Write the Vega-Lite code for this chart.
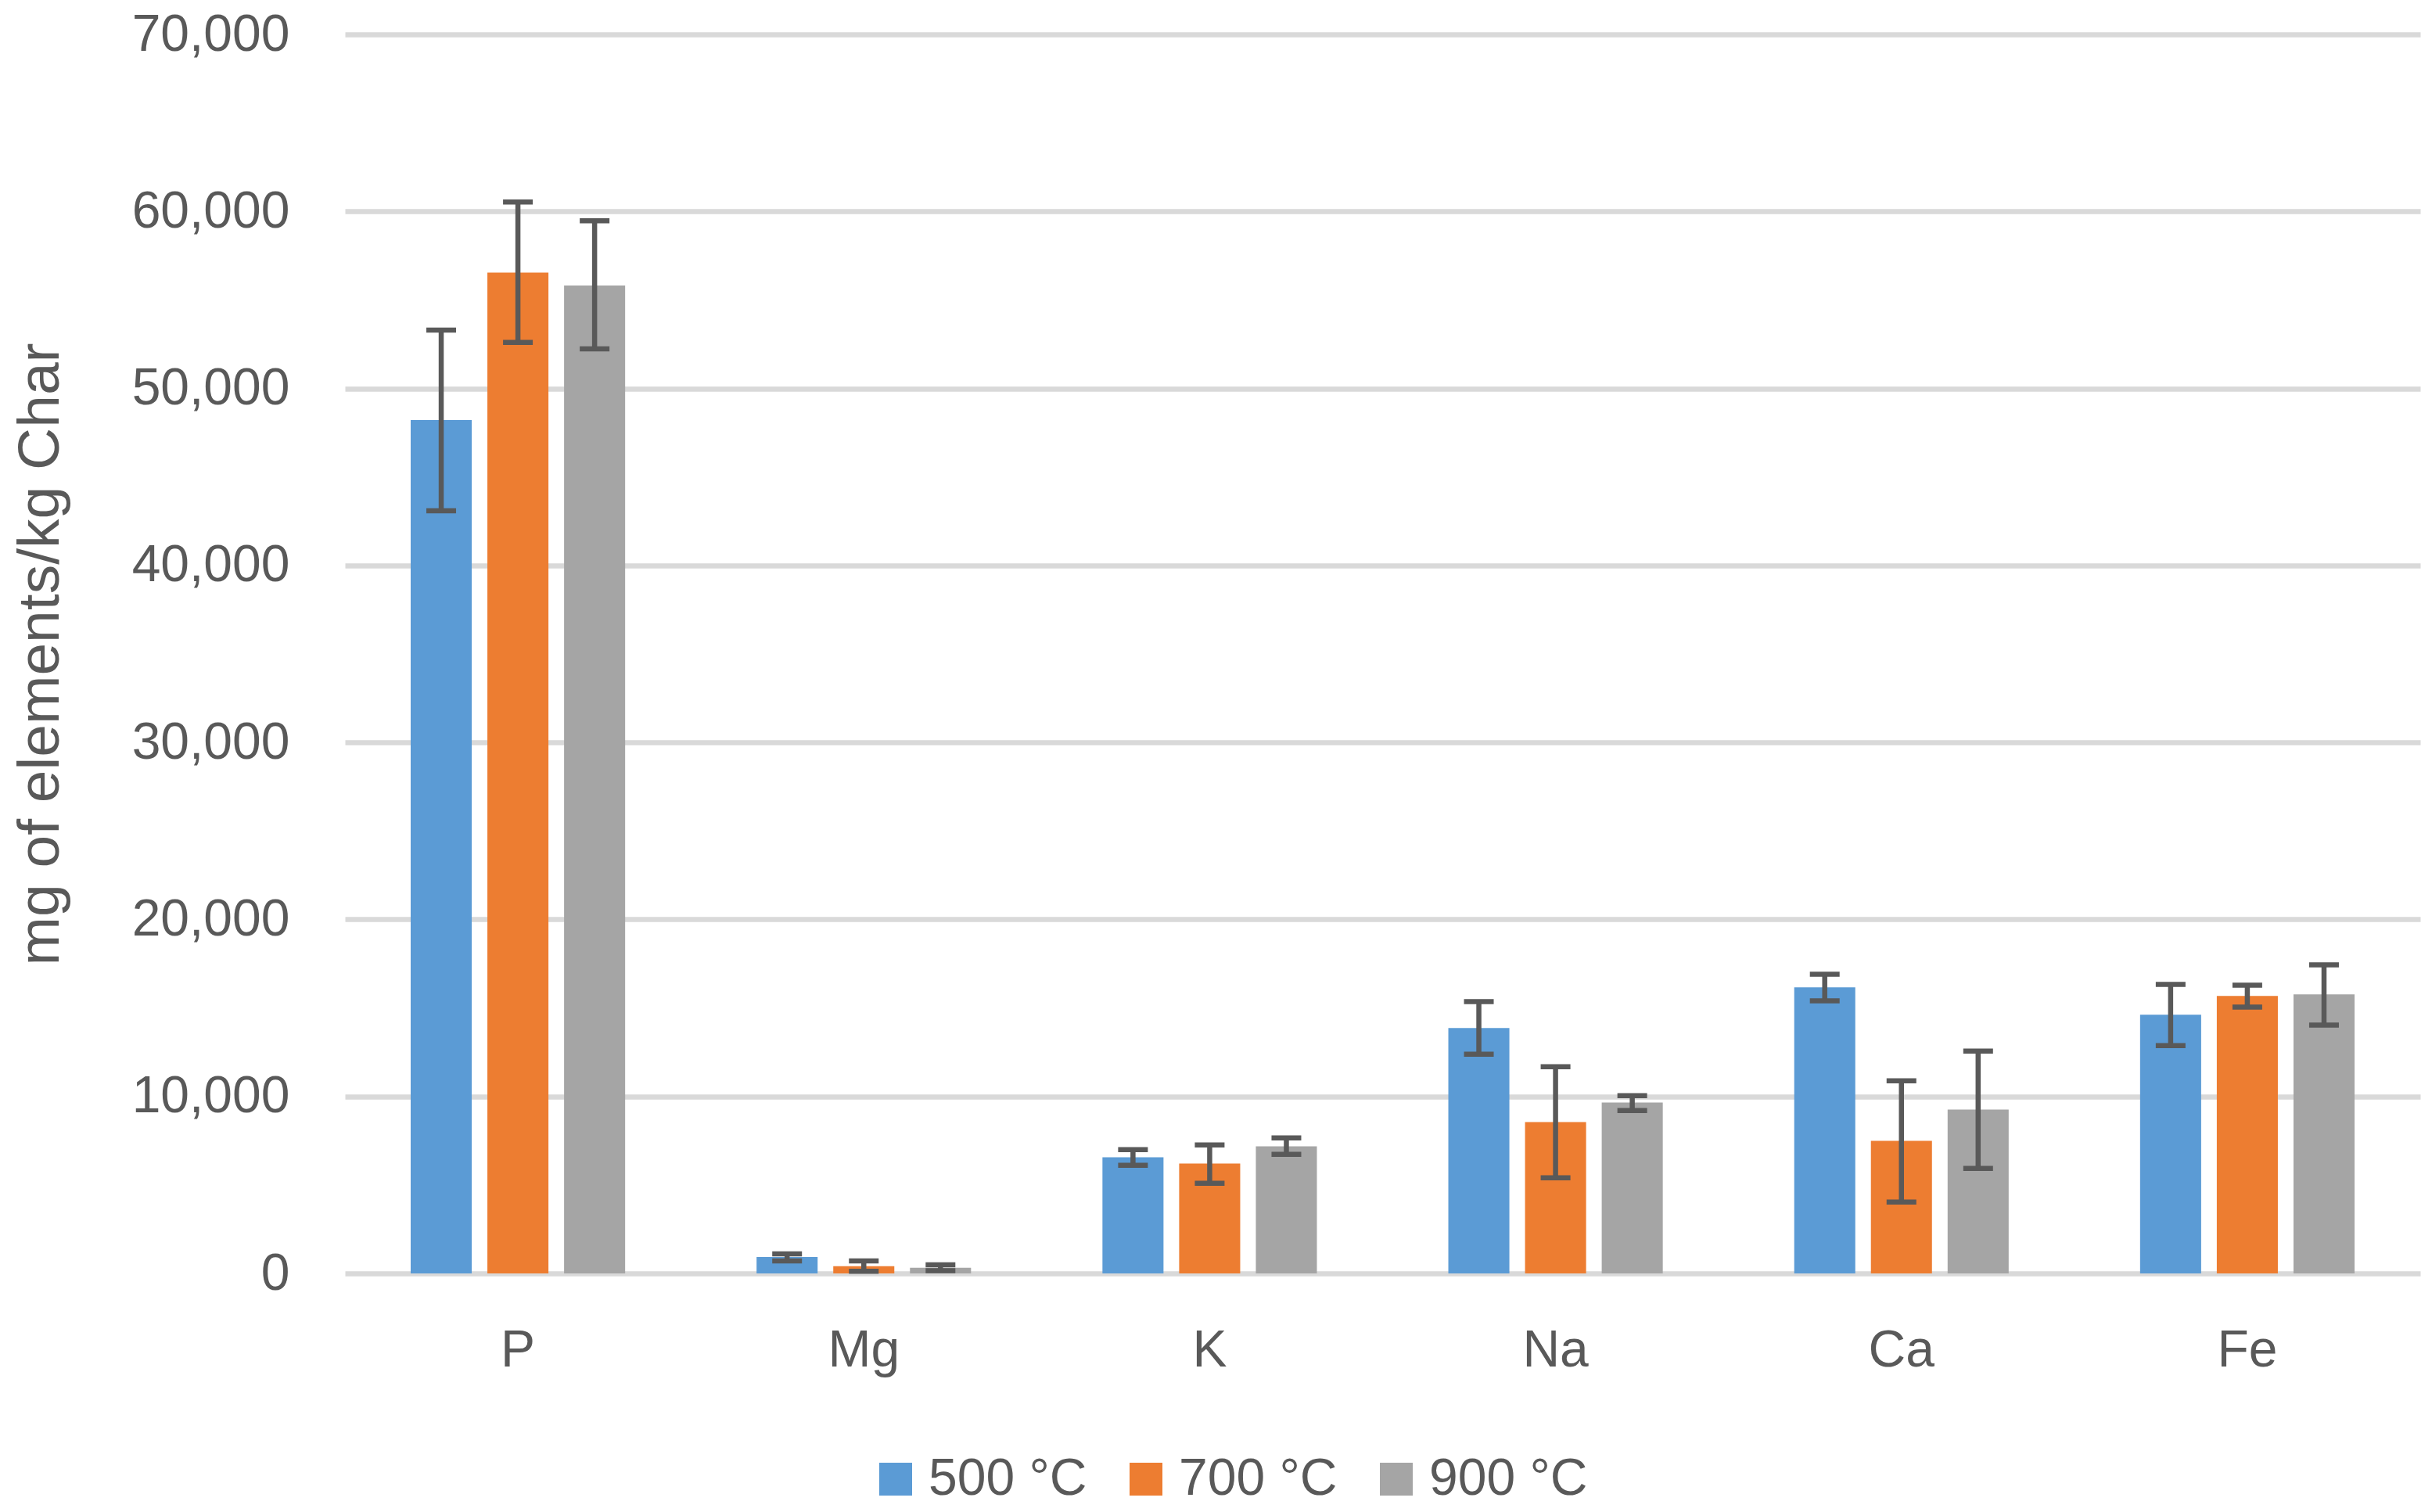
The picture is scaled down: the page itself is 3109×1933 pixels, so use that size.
{
  "$schema": "https://vega.github.io/schema/vega-lite/v6.json",
  "width": 2653,
  "height": 1584,
  "autosize": {"type": "none"},
  "padding": {"left": 441, "top": 44, "right": 15, "bottom": 305},
  "background": "white",
  "config": {
    "font": "Liberation Sans",
    "view": {"stroke": null},
    "axis": {"labelColor": "#595959", "titleColor": "#595959"}
  },
  "data": {
    "values": [
      {"element": "P", "temp": "500 °C", "value": 48211, "lo": 43089, "hi": 53293},
      {"element": "P", "temp": "700 °C", "value": 56545, "lo": 52602, "hi": 60528},
      {"element": "P", "temp": "900 °C", "value": 55813, "lo": 52236, "hi": 59472},
      {"element": "Mg", "temp": "500 °C", "value": 930, "lo": 710, "hi": 1100},
      {"element": "Mg", "temp": "700 °C", "value": 411, "lo": 120, "hi": 705},
      {"element": "Mg", "temp": "900 °C", "value": 323, "lo": 160, "hi": 485},
      {"element": "K", "temp": "500 °C", "value": 6565, "lo": 6110, "hi": 6994},
      {"element": "K", "temp": "700 °C", "value": 6211, "lo": 5093, "hi": 7259},
      {"element": "K", "temp": "900 °C", "value": 7184, "lo": 6729, "hi": 7657},
      {"element": "Na", "temp": "500 °C", "value": 13864, "lo": 12389, "hi": 15354},
      {"element": "Na", "temp": "700 °C", "value": 8555, "lo": 5398, "hi": 11681},
      {"element": "Na", "temp": "900 °C", "value": 9661, "lo": 9204, "hi": 10044},
      {"element": "Ca", "temp": "500 °C", "value": 16165, "lo": 15398, "hi": 16903},
      {"element": "Ca", "temp": "700 °C", "value": 7493, "lo": 4027, "hi": 10885},
      {"element": "Ca", "temp": "900 °C", "value": 9263, "lo": 5929, "hi": 12566},
      {"element": "Fe", "temp": "500 °C", "value": 14617, "lo": 12876, "hi": 16327},
      {"element": "Fe", "temp": "700 °C", "value": 15678, "lo": 15044, "hi": 16283},
      {"element": "Fe", "temp": "900 °C", "value": 15767, "lo": 14027, "hi": 17434}
    ]
  },
  "encoding": {
    "x": {
      "field": "element",
      "type": "nominal",
      "sort": ["P", "Mg", "K", "Na", "Ca", "Fe"],
      "scale": {"paddingInner": 0.38, "paddingOuter": 0.19},
      "axis": {
        "title": null,
        "labelAngle": 0,
        "labelFontSize": 66,
        "labelPadding": 66,
        "ticks": false,
        "tickSize": 0,
        "domain": false,
        "grid": false
      }
    },
    "xOffset": {
      "field": "temp",
      "type": "nominal",
      "sort": ["500 °C", "700 °C", "900 °C"],
      "scale": {"paddingInner": 0.204, "paddingOuter": 0}
    }
  },
  "layer": [
    {
      "mark": {"type": "bar"},
      "encoding": {
        "y": {
          "field": "value",
          "type": "quantitative",
          "scale": {"domain": [0, 70000], "nice": false},
          "axis": {
            "title": "mg of elements/kg Char",
            "titleFontSize": 75,
            "titleFontWeight": "normal",
            "titlePadding": 151,
            "values": [0, 10000, 20000, 30000, 40000, 50000, 60000, 70000],
            "format": ",.0f",
            "labelFontSize": 66,
            "labelPadding": 71,
            "labelLimit": 500,
            "ticks": false,
            "tickSize": 0,
            "domain": false,
            "grid": true,
            "gridColor": "#D9D9D9",
            "gridWidth": 6.5
          }
        },
        "color": {
          "field": "temp",
          "type": "nominal",
          "scale": {
            "domain": ["500 °C", "700 °C", "900 °C"],
            "range": ["#5B9BD5", "#ED7D31", "#A5A5A5"]
          },
          "legend": {
            "title": null,
            "orient": "none",
            "direction": "horizontal",
            "legendX": 671,
            "legendY": 1814,
            "padding": 0,
            "symbolType": "square",
            "symbolSize": 1764,
            "symbolStrokeWidth": 0,
            "symbolOpacity": 1,
            "labelFontSize": 66,
            "labelColor": "#595959",
            "labelOffset": 9,
            "labelLimit": 1000,
            "columnPadding": 42
          }
        }
      }
    },
    {
      "mark": {"type": "rule", "color": "#595959", "strokeWidth": 6.5},
      "encoding": {
        "y": {"field": "lo", "type": "quantitative"},
        "y2": {"field": "hi"}
      }
    },
    {
      "mark": {"type": "tick", "color": "#595959", "size": 38, "thickness": 6.5, "orient": "horizontal", "opacity": 1},
      "encoding": {
        "y": {"field": "lo", "type": "quantitative"}
      }
    },
    {
      "mark": {"type": "tick", "color": "#595959", "size": 38, "thickness": 6.5, "orient": "horizontal", "opacity": 1},
      "encoding": {
        "y": {"field": "hi", "type": "quantitative"}
      }
    }
  ]
}
